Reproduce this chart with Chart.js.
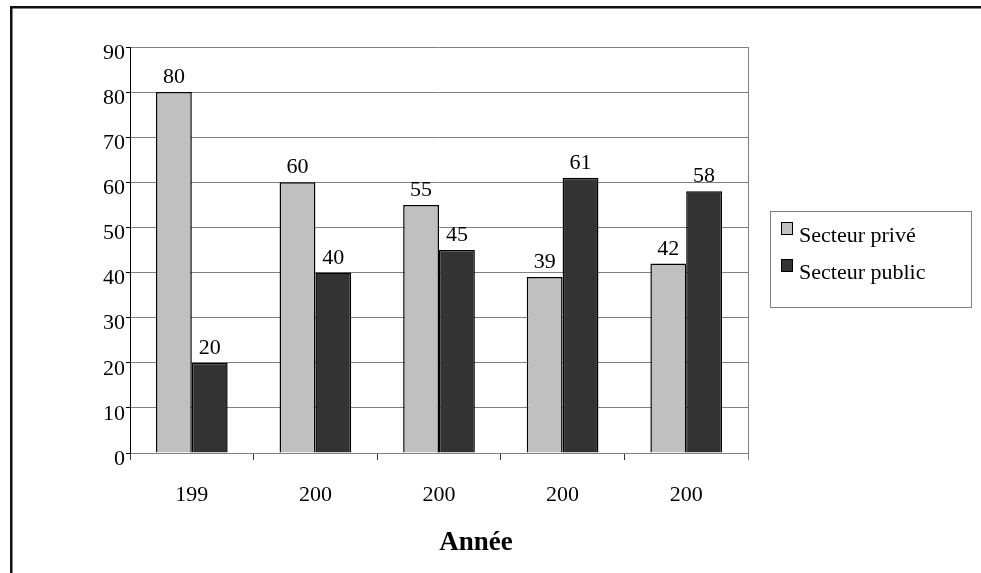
<!DOCTYPE html>
<html>
<head>
<meta charset="utf-8">
<script src="https://cdn.jsdelivr.net/npm/chart.js@4"></script>
<style>
body { margin: 0; background: #fff; }
canvas { display: block; }
</style>
</head>
<body>
<canvas id="chart" width="981" height="573"></canvas>
<script>
// data
var years = ["199", "200", "200", "200", "200"];
var secteurPrive = [80, 60, 55, 39, 42];
var secteurPublic = [20, 40, 45, 61, 58];
var seriesNames = ["Secteur privé", "Secteur public"];
var seriesColors = ["#c0c0c0", "#333333"];
var axisTitle = "Année";
var yMax = 90;
var yStep = 10;

var serif = "'Liberation Serif', 'Times New Roman', serif";

// white background + outer frame (left and top edges only)
var framePlugin = {
    id: 'frame',
    beforeDraw: function(chart) {
        var ctx = chart.ctx;
        ctx.save();
        ctx.fillStyle = '#fff';
        ctx.fillRect(0, 0, chart.width, chart.height);
        ctx.fillStyle = '#111';
        ctx.fillRect(10, 6, 2.5, chart.height - 6);
        ctx.fillRect(10, 6, chart.width - 10, 2.5);
        ctx.restore();
    }
};

// value labels, right border of plot, axis title, boxed legend
var extrasPlugin = {
    id: 'extras',
    afterDraw: function(chart) {
        var ctx = chart.ctx;
        var area = chart.chartArea;
        ctx.save();

        // right edge of plot area
        ctx.strokeStyle = '#808080';
        ctx.lineWidth = 1;
        ctx.beginPath();
        ctx.moveTo(area.right + 0.5, area.top);
        ctx.lineTo(area.right + 0.5, area.bottom + 7);
        ctx.stroke();

        // values above bars
        ctx.fillStyle = '#000';
        ctx.font = '22px ' + serif;
        ctx.textAlign = 'center';
        ctx.textBaseline = 'alphabetic';
        chart.data.datasets.forEach(function(ds, di) {
            chart.getDatasetMeta(di).data.forEach(function(bar, i) {
                ctx.fillText(String(ds.data[i]), bar.x, bar.y - 9);
            });
        });

        // x axis title
        ctx.font = 'bold 27px ' + serif;
        ctx.fillText(axisTitle, (area.left + area.right) / 2 + 37, 550);

        // legend box
        var lx = 770, ly = 211, lw = 201, lh = 96;
        ctx.strokeStyle = '#808080';
        ctx.strokeRect(lx + 0.5, ly + 0.5, lw, lh);
        ctx.font = '22px ' + serif;
        ctx.textAlign = 'left';
        chart.data.datasets.forEach(function(ds, di) {
            var sy = 222 + di * 37;
            ctx.fillStyle = ds.backgroundColor;
            ctx.fillRect(781.5, sy + 0.5, 11, 12);
            ctx.strokeStyle = '#000';
            ctx.strokeRect(781.5, sy + 0.5, 11, 12);
            ctx.fillStyle = '#000';
            ctx.fillText(ds.label, 799, sy + 20);
        });
        ctx.restore();
    }
};

const data = {
    labels: years,
    datasets: [{
        label: seriesNames[0],
        data: secteurPrive,
        backgroundColor: seriesColors[0],
        borderColor: '#000',
        borderWidth: 1.5
    }, {
        label: seriesNames[1],
        data: secteurPublic,
        backgroundColor: seriesColors[1],
        borderColor: '#000',
        borderWidth: 1.5
    }]
};

const config = {
    type: 'bar',
    data: data,
    options: {
        responsive: false,
        animation: false,
        layout: {
            padding: {left: 0, top: 47, right: 233, bottom: 0}
        },
        datasets: {
            bar: {categoryPercentage: 0.58, barPercentage: 1}
        },
        plugins: {
            legend: {display: false},
            tooltip: {enabled: false}
        },
        scales: {
            x: {
                offset: true,
                afterFit: function(scale) { scale.height = 120; },
                grid: {
                    drawOnChartArea: false,
                    drawTicks: true,
                    tickLength: 7,
                    tickColor: '#333',
                    offset: true
                },
                border: {display: true, color: '#808080'},
                ticks: {
                    color: '#000',
                    padding: 22,
                    font: {family: serif, size: 22}
                }
            },
            y: {
                min: 0,
                max: yMax,
                afterFit: function(scale) { scale.width = 130; },
                grid: {
                    color: '#808080',
                    tickLength: 4,
                    tickColor: '#000'
                },
                border: {display: true, color: '#000'},
                ticks: {
                    stepSize: yStep,
                    color: '#000',
                    padding: 1,
                    labelOffset: 6,
                    font: {family: serif, size: 22}
                }
            }
        }
    },
    plugins: [framePlugin, extrasPlugin]
};

const chart = new Chart(document.getElementById('chart'), config);
</script>
</body>
</html>
